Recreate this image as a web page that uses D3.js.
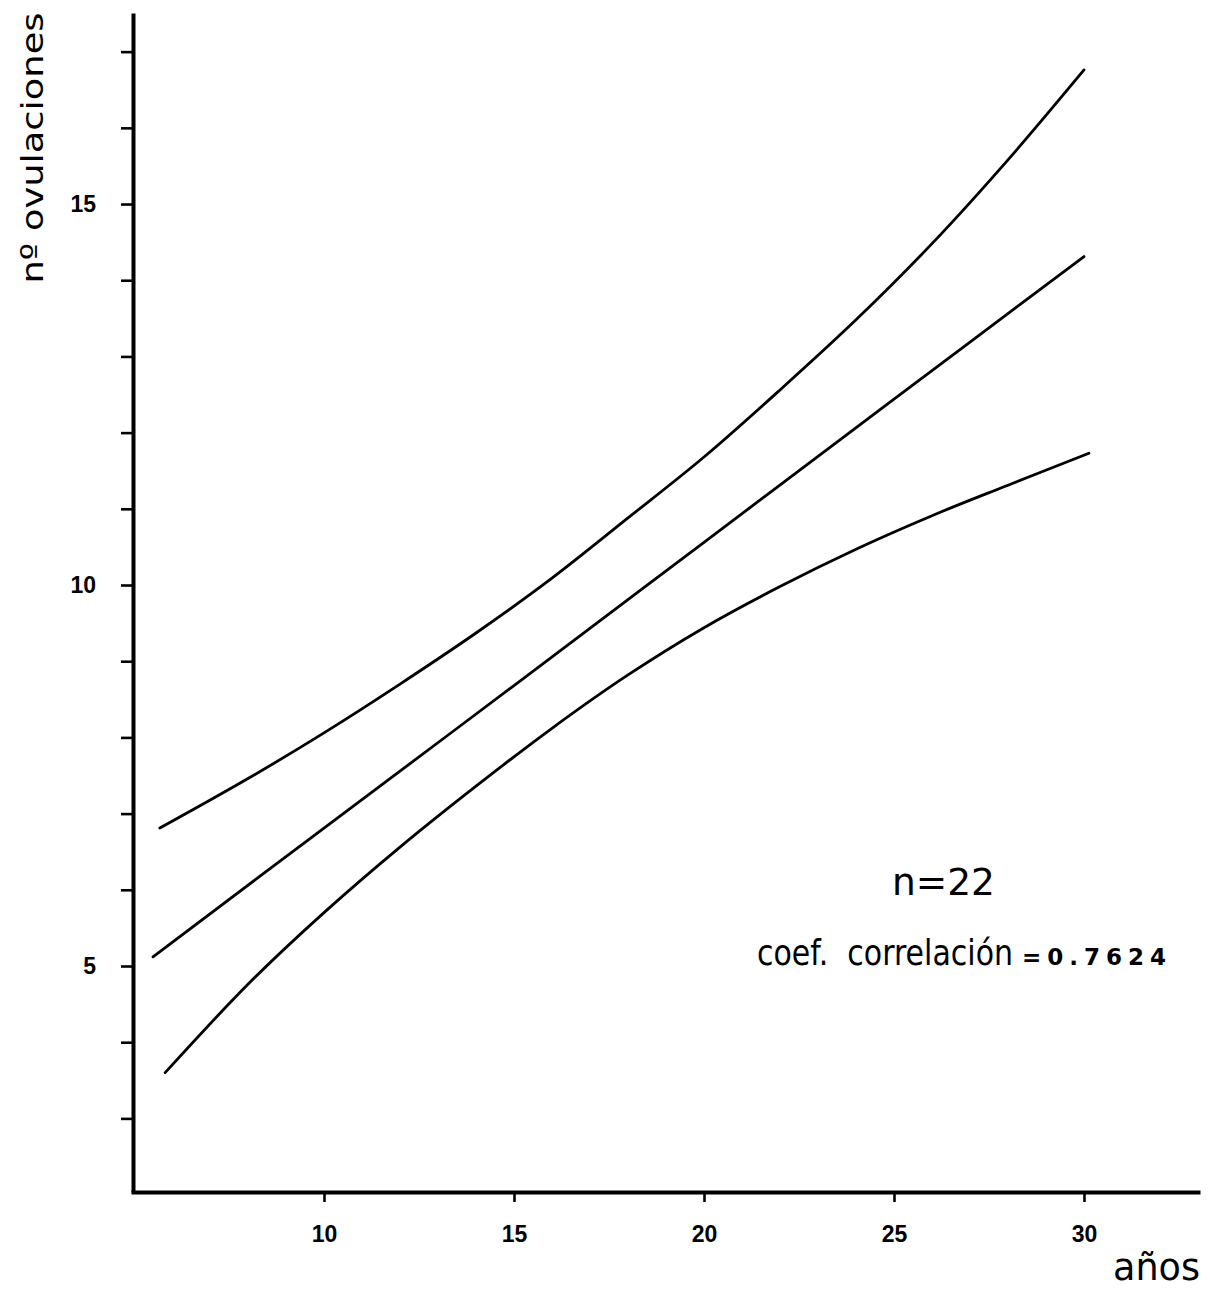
<!DOCTYPE html>
<html>
<head>
<meta charset="utf-8">
<script src="https://cdn.jsdelivr.net/npm/d3@7"></script>
<style>
  html, body { margin: 0; padding: 0; background: #fff; }
  svg { display: block; }
</style>
</head>
<body>
<svg id="chart" width="1210" height="1293"></svg>
<script>
// ---- data ----
const xTickValues = [10, 15, 20, 25, 30];
const yTickValues = [3, 4, 5, 6, 7, 8, 9, 10, 11, 12, 13, 14, 15, 16, 17];
const yTickLabels = [5, 10, 15];

// regression line
const regX = [5.5, 10, 15, 20, 25, 30];
const regY = [5.12, 6.81, 8.68, 10.56, 12.44, 14.31];

// upper confidence band
const upperX = [5.68, 8, 10, 12, 14, 16, 18, 20, 22, 24, 26, 28, 30];
const upperY = [6.81, 7.46, 8.06, 8.70, 9.37, 10.09, 10.88, 11.68, 12.56, 13.48, 14.48, 15.58, 16.76];

// lower confidence band
const lowerX = [5.82, 8, 10, 12, 14, 16, 18, 20, 22, 24, 26, 28, 30.13];
const lowerY = [3.60, 4.76, 5.70, 6.56, 7.36, 8.12, 8.82, 9.44, 9.98, 10.47, 10.91, 11.31, 11.73];

const yTitle = "nº ovulaciones";
const xTitle = "años";
const nLabel = "n=22";
const corrLabel = "coef.  correlación";
const corrValue = "=0.7624";

// ---- chart ----
const svg = d3.select("#chart");

const x = d3.scaleLinear().domain([4.921, 33.053]).range([131, 1200]);
const y = d3.scaleLinear().domain([2.034, 17.507]).range([1192, 13]);

const tickFont = "'Liberation Sans', Arial, sans-serif";
const titleFont = "'DejaVu Sans', 'Noto Sans', sans-serif";

// y axis
const yAxis = d3.axisLeft(y)
  .tickValues(yTickValues)
  .tickSize(12)
  .tickSizeOuter(0)
  .tickPadding(25)
  .tickFormat(d => yTickLabels.includes(d) ? d : "");
const gy = svg.append("g").attr("transform", "translate(133,0)").call(yAxis);
gy.select(".domain").attr("stroke-width", 4).attr("stroke", "#000");
gy.selectAll(".tick line").attr("stroke-width", 2.6).attr("stroke", "#000");
gy.selectAll(".tick text")
  .attr("font-family", tickFont).attr("font-weight", "bold")
  .attr("font-size", 23).attr("fill", "#000");

// x axis
const xAxis = d3.axisBottom(x)
  .tickValues(xTickValues)
  .tickSize(10)
  .tickSizeOuter(0)
  .tickPadding(24);
const gx = svg.append("g").attr("transform", "translate(0,1192)").call(xAxis);
gx.select(".domain").attr("stroke-width", 4).attr("stroke", "#000");
gx.selectAll(".tick line").attr("stroke-width", 2.6).attr("stroke", "#000");
gx.selectAll(".tick text")
  .attr("font-family", tickFont).attr("font-weight", "bold")
  .attr("font-size", 23).attr("fill", "#000");

// curves
const line = d3.line().x(d => x(d[0])).y(d => y(d[1])).curve(d3.curveCatmullRom.alpha(0.5));
const series = [
  d3.zip(upperX, upperY),
  d3.zip(regX, regY),
  d3.zip(lowerX, lowerY)
];
svg.append("g").selectAll("path").data(series).join("path")
  .attr("d", line)
  .attr("fill", "none")
  .attr("stroke", "#000")
  .attr("stroke-width", 2.8)
  .attr("stroke-linecap", "round");

// titles
svg.append("text")
  .attr("transform", "translate(43,148) rotate(-90)")
  .attr("text-anchor", "middle")
  .attr("font-family", titleFont)
  .attr("font-size", 31)
  .attr("textLength", 271)
  .attr("lengthAdjust", "spacingAndGlyphs")
  .text(yTitle);

svg.append("text")
  .attr("x", 1200).attr("y", 1280)
  .attr("text-anchor", "end")
  .attr("font-family", titleFont)
  .attr("font-size", 38)
  .attr("textLength", 87)
  .attr("lengthAdjust", "spacingAndGlyphs")
  .text(xTitle);

// annotations
svg.append("text")
  .attr("x", 892).attr("y", 895)
  .attr("font-family", titleFont)
  .attr("font-size", 38)
  .attr("textLength", 103)
  .attr("lengthAdjust", "spacingAndGlyphs")
  .text(nLabel);

const corr = svg.append("text")
  .attr("x", 757).attr("y", 965)
  .attr("font-family", titleFont)
  .style("white-space", "pre");
corr.append("tspan")
  .attr("font-size", 36)
  .attr("textLength", 256)
  .attr("lengthAdjust", "spacingAndGlyphs")
  .text(corrLabel);
corr.append("tspan")
  .attr("dx", 9)
  .attr("font-weight", "bold")
  .attr("font-size", 23)
  .attr("textLength", 144)
  .attr("lengthAdjust", "spacing")
  .text(corrValue);
</script>
</body>
</html>
